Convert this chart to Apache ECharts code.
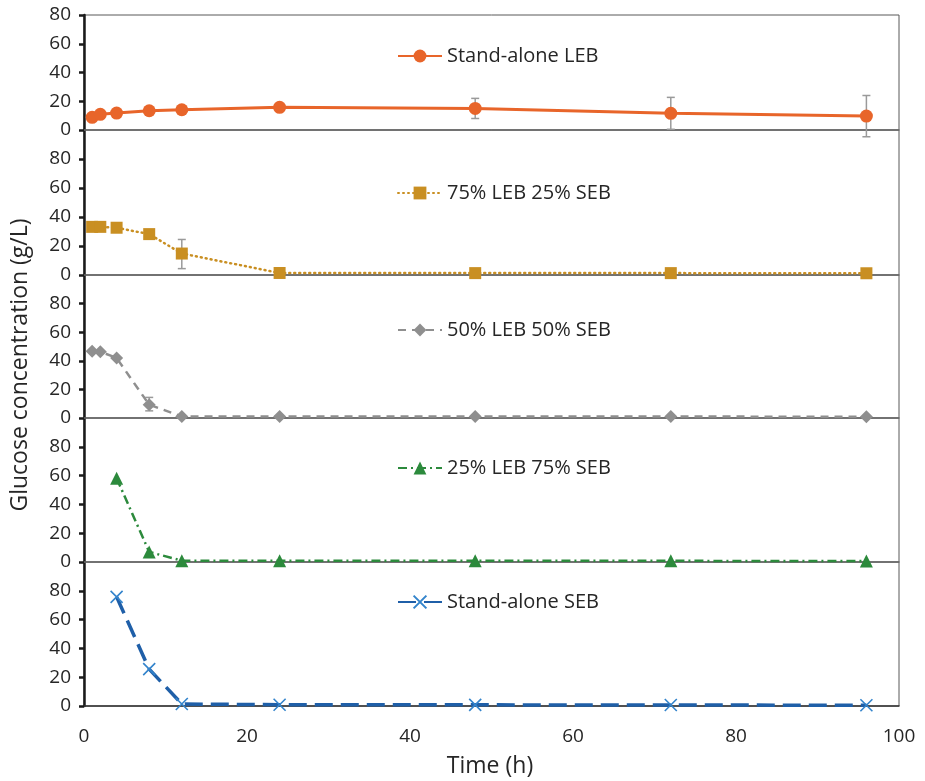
<!DOCTYPE html>
<html>
<head>
<meta charset="utf-8">
<script src="https://cdn.jsdelivr.net/npm/echarts@6/dist/echarts.min.js"></script>
<style>html,body{margin:0;padding:0;background:#fff}#c{width:925px;height:781px}</style>
</head>
<body>
<div id="c"></div>
<script>
// ---- data ----
const seriesNames = ['Stand-alone LEB', '75% LEB 25% SEB', '50% LEB 50% SEB', '25% LEB 75% SEB', 'Stand-alone SEB'];
const timeAll = [1, 2, 4, 8, 12, 24, 48, 72, 96];
const timeLate = [4, 8, 12, 24, 48, 72, 96];
const lebValues = [8.8, 10.9, 11.8, 13.4, 14.1, 15.8, 15.0, 11.6, 9.7];
const mix75Values = [33.2, 33.2, 32.6, 28.2, 14.8, 1.4, 1.3, 1.3, 1.2];
const mix50Values = [46.6, 46.4, 42.0, 9.3, 1.1, 1.0, 1.0, 1.0, 0.9];
const mix25Values = [58.2, 7.0, 0.9, 0.8, 0.8, 0.8, 0.7];
const sebValues = [75.8, 25.6, 1.4, 0.9, 0.8, 0.7, 0.5];
// error bars: [time, low, high]
const lebErr = [[48, 8, 22], [72, 0.5, 22.7], [96, -4.7, 24]];
const mix75Err = [[12, 4.4, 24.5]];
const mix50Err = [[8, 5, 14.4]];
const mix25Err = [];
const sebErr = [];
const yTicks = [0, 20, 40, 60, 80];
const xTicks = [0, 20, 40, 60, 80, 100];

// ---- layout/style ----
const FONT = 'Open Sans';
const panels = [
  {top: 15, height: 115, max: 80},
  {top: 130, height: 145, max: 100},
  {top: 275, height: 143, max: 100},
  {top: 418, height: 144, max: 100},
  {top: 562, height: 144, max: 100}
];
const legendCenters = [56, 193, 330, 468, 602];
const colors = ['#E8652A', '#C98F22', '#8F8F8F', '#2C8A3C', '#1F5FA8'];
const markerColors = ['#E8652A', '#C98F22', '#8F8F8F', '#2C8A3C', '#3384CC'];
const symbols = ['circle', 'rect', 'diamond', 'triangle', 'path://M0,0L10,10M10,0L0,10'];
const symbolSizes = [13, 12, 13, 13, 12];
const lineTypes = ['solid', [1, 4], [8, 6], [9, 4, 2, 4], [18, 8]];
const lineWidths = [3, 2.5, 2.5, 2.5, 3.5];
const times = [timeAll, timeAll, timeAll, timeLate, timeLate];
const values = [lebValues, mix75Values, mix50Values, mix25Values, sebValues];
const errs = [lebErr, mix75Err, mix50Err, mix25Err, sebErr];

const grids = [], xAxes = [], yAxes = [], series = [], legends = [];
panels.forEach((p, i) => {
  grids.push({left: 84, right: 26, top: p.top, height: p.height, show: true,
    borderColor: '#595959', borderWidth: 1, backgroundColor: 'transparent'});
  const last = i === panels.length - 1;
  xAxes.push({type: 'value', gridIndex: i, min: 0, max: 100, interval: 20,
    axisLine: {show: true, lineStyle: {color: last ? '#333' : '#6e6e6e', width: 1.5}},
    axisTick: {show: false}, splitLine: {show: false},
    axisLabel: {show: last, fontFamily: FONT, fontSize: 19, color: '#262626', margin: 21}});
  yAxes.push({type: 'value', gridIndex: i, min: 0, max: p.max, interval: 20,
    axisLine: {show: true, onZero: false, lineStyle: {color: '#1a1a1a', width: 2.5}},
    axisTick: {show: true, length: 5, lineStyle: {color: '#1a1a1a', width: 2.5}},
    splitLine: {show: false},
    axisLabel: {fontFamily: FONT, fontSize: 19, color: '#262626', margin: 13,
      formatter: v => (yTicks.indexOf(v) >= 0 ? String(v) : '')}});
  yAxes.push({type: 'value', gridIndex: i, min: 0, max: p.max, interval: 20,
    axisLine: {show: false}, axisLabel: {show: false}, splitLine: {show: false},
    axisTick: {show: true, inside: true, length: 5, lineStyle: {color: '#1a1a1a', width: 2.5}}});
  const xi = i, yi = i * 2;
  // error bars
  series.push({type: 'custom', xAxisIndex: xi, yAxisIndex: yi, z: 1, silent: true, clip: false,
    data: errs[i],
    renderItem: (params, api) => {
      const x = api.value(0);
      const lo = api.coord([x, api.value(1)]);
      const hi = api.coord([x, api.value(2)]);
      const st = {stroke: '#9A9A9A', lineWidth: 1.5};
      return {type: 'group', children: [
        {type: 'line', shape: {x1: lo[0], y1: lo[1], x2: hi[0], y2: hi[1]}, style: st},
        {type: 'line', shape: {x1: lo[0] - 4, y1: lo[1], x2: lo[0] + 4, y2: lo[1]}, style: st},
        {type: 'line', shape: {x1: hi[0] - 4, y1: hi[1], x2: hi[0] + 4, y2: hi[1]}, style: st}
      ]};
    }});
  const isCross = i === 4;
  series.push({type: 'line', name: seriesNames[i], xAxisIndex: xi, yAxisIndex: yi, z: 3,
    data: times[i].map((t, k) => [t, values[i][k]]),
    symbol: symbols[i], symbolSize: symbolSizes[i], showAllSymbol: true,
    clip: false,
    lineStyle: {color: colors[i], width: lineWidths[i], type: lineTypes[i], cap: i === 1 ? 'round' : 'butt'},
    itemStyle: isCross ? {color: markerColors[i], borderColor: markerColors[i], borderWidth: 1.6}
                       : {color: markerColors[i], borderWidth: 0},
    emphasis: {disabled: true}});
  legends.push({data: [seriesNames[i]], left: 397, top: legendCenters[i] - 10, padding: 0,
    itemWidth: 44, itemHeight: 16, itemGap: 0, selectedMode: false,
    textStyle: {fontFamily: FONT, fontSize: 20, color: '#262626'}});
});

const chart = echarts.init(document.getElementById('c'), null, {renderer: 'canvas'});
chart.setOption({
  animation: false,
  backgroundColor: '#fff',
  grid: grids, xAxis: xAxes, yAxis: yAxes, series: series, legend: legends,
  graphic: [
    {type: 'text', x: 20, y: 365, rotation: Math.PI / 2,
      style: {text: 'Glucose concentration (g/L)', fontFamily: FONT, fontSize: 23, fill: '#262626',
        align: 'center', verticalAlign: 'middle'}},
    {type: 'text', x: 490, y: 766,
      style: {text: 'Time (h)', fontFamily: FONT, fontSize: 23, fill: '#262626',
        align: 'center', verticalAlign: 'middle'}}
  ]
});
</script>
</body>
</html>
